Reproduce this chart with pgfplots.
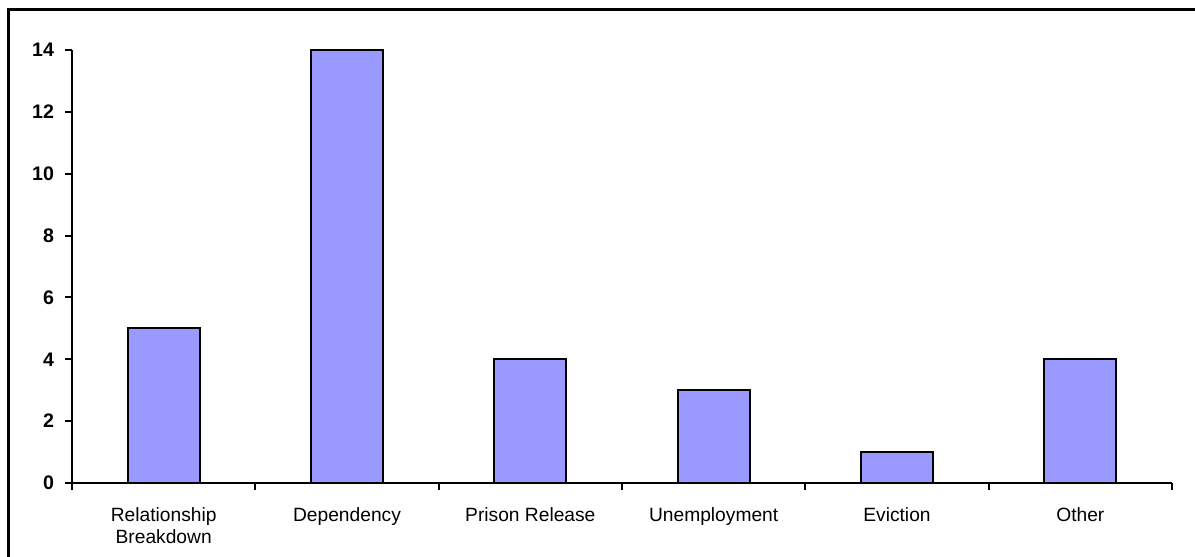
\documentclass[border=0pt]{standalone}
\usepackage{pgfplots}
\pgfplotsset{compat=1.18}
\usepackage{fontspec}
\setmainfont{Liberation Sans}

\definecolor{barblue}{HTML}{9999FF}

\begin{document}
\begin{tikzpicture}[x=1pt,y=1pt]
  % page area and outer chart frame
  \useasboundingbox (0,0) rectangle (597.5,278.5);
  \draw[line width=1.4pt] (4.2,-10) -- (4.2,273.6) -- (610,273.6);
  \begin{axis}[
      at={(36pt,37pt)}, anchor=south west,
      scale only axis,
      width=550pt, height=216.5pt,
      ybar, bar width=0.393,
      xmin=-0.5, xmax=5.5,
      ymin=0, ymax=14,
      axis x line=bottom, axis y line=left,
      axis line style={line width=1pt, -},
      tick align=outside,
      major tick length=3.5pt,
      tick style={line width=1pt, black},
      ytick={0,2,...,14},
      yticklabel style={font=\fontsize{9.8}{11}\selectfont\bfseries, xshift=-2pt},
      /pgf/number format/assume math mode=true,
      xtick={-0.5,0.5,...,5.5},
      xticklabels={},
      extra x ticks={0,1,2,3,4,5},
      extra x tick labels={Relationship\\Breakdown,Dependency,Prison Release,Unemployment,Eviction,Other},
      extra x tick style={major tick length=0pt,
        tick label style={font=\fontsize{9.6}{11}\selectfont, align=center, text depth=0pt, yshift=-9pt}},
      clip=false,
    ]
    \addplot[fill=barblue, draw=black, line width=1pt] coordinates {
      (0,5) (1,14) (2,4) (3,3) (4,1) (5,4)
    };
  \end{axis}
\end{tikzpicture}
\end{document}
